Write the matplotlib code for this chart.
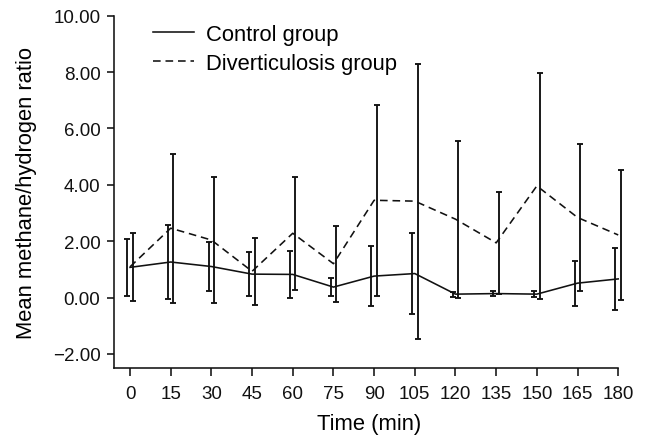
import matplotlib
matplotlib.use("Agg")
import matplotlib.pyplot as plt
from matplotlib.ticker import FuncFormatter

# time points (min)
times = [0, 15, 30, 45, 60, 75, 90, 105, 120, 135, 150, 165, 180]

# control group: mean and SD of methane/hydrogen ratio
control_mean = [1.07, 1.26, 1.10, 0.83, 0.82, 0.37, 0.76, 0.85, 0.12, 0.14, 0.12, 0.51, 0.66]
control_sd = [1.01, 1.31, 0.87, 0.78, 0.82, 0.31, 1.07, 1.43, 0.09, 0.10, 0.10, 0.80, 1.11]

# diverticulosis group
div_mean = [1.09, 2.46, 2.04, 0.93, 2.28, 1.20, 3.45, 3.42, 2.78, 1.94, 3.96, 2.84, 2.22]
div_sd = [1.20, 2.65, 2.25, 1.18, 2.01, 1.35, 3.39, 4.88, 2.79, 1.80, 4.02, 2.61, 2.32]

yticks = [-2, 0, 2, 4, 6, 8, 10]

plt.rcParams['font.family'] = ['Liberation Sans', 'DejaVu Sans']
plt.rcParams['lines.scale_dashes'] = False

fig = plt.figure(figsize=(6.48, 4.39), dpi=100)
ax = fig.add_axes([0.1764, 0.1595, 0.7860, 0.8025])

ink = '#111111'

# mean lines
ax.plot(times, control_mean, '-', color=ink, lw=1.15, label='Control group')
ax.plot(times, div_mean, color=ink, lw=1.15, dashes=(5.5, 3.5), label='Diverticulosis group')

# error bars, nudged apart so they don't overlap
ax.errorbar([t - 1 for t in times], control_mean, yerr=control_sd, fmt='none',
            ecolor=ink, elinewidth=1.35, capsize=2.2, capthick=1.35, clip_on=False)
ax.errorbar([t + 1 for t in times], div_mean, yerr=div_sd, fmt='none',
            ecolor=ink, elinewidth=1.35, capsize=2.2, capthick=1.35, clip_on=False)

ax.set_xlim(-5.8, 182)
ax.set_ylim(-2.5, 10)
ax.set_xticks(times)
ax.set_yticks(yticks)
ax.yaxis.set_major_formatter(FuncFormatter(lambda v, p: f"{v:.2f}".replace('-', '\u2212')))

for s in ['top', 'right']:
    ax.spines[s].set_visible(False)
ax.spines['bottom'].set_bounds(-5.8, 180)
for s in ['left', 'bottom']:
    ax.spines[s].set_linewidth(1.15)
    ax.spines[s].set_color(ink)

ax.tick_params(axis='x', direction='out', length=6, width=1.15, pad=6, labelsize=13.5, colors=ink)
ax.tick_params(axis='y', direction='out', length=5, width=1.15, pad=5, labelsize=13.5, colors=ink)

ax.set_xlabel('Time (min)', fontsize=15.8, labelpad=8)
ax.set_ylabel('Mean methane/hydrogen ratio', fontsize=15.8, labelpad=11)

ax.legend(loc='upper left', bbox_to_anchor=(0.076, 0.977), frameon=False, fontsize=15.8,
          handlelength=1.87, handletextpad=0.53, labelspacing=0.38, borderpad=0, borderaxespad=0)

fig.savefig('out.png', dpi=100)
